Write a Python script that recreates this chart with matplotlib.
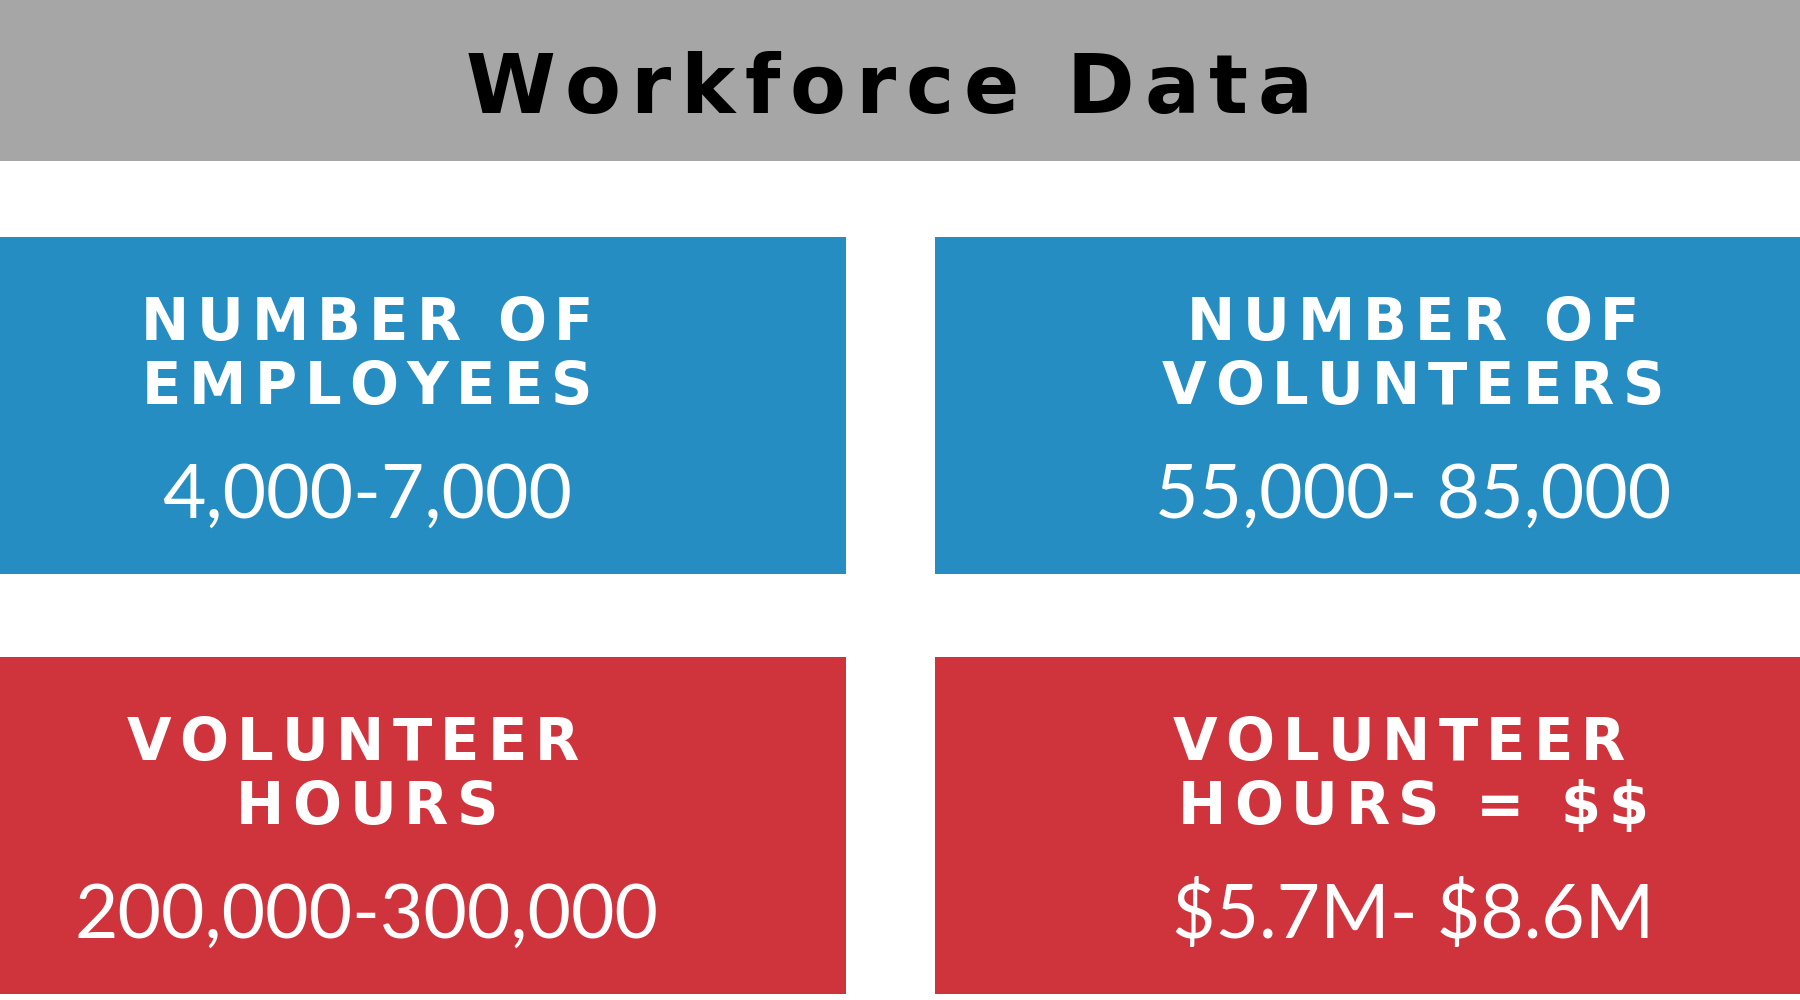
import matplotlib
matplotlib.use("Agg")
import matplotlib.pyplot as plt
from matplotlib.patches import Rectangle
from matplotlib.font_manager import FontProperties, findfont
from matplotlib.ft2font import FT2Font

W, H, DPI = 1800, 1000, 100

TITLE = "Workforce Data"
HEADERS = [
    ["NUMBER OF", "EMPLOYEES"],
    ["NUMBER OF", "VOLUNTEERS"],
    ["VOLUNTEER ", "HOURS"],
    ["VOLUNTEER ", "HOURS = $$"],
]
VALUES = ["4,000-7,000", "55,000- 85,000", "200,000-300,000", "$5.7M- $8.6M"]

GRAY = "#A6A6A6"
BLUE = "#258DC2"
RED = "#CF333C"
PANEL_COLORS = [BLUE, BLUE, RED, RED]

# panel layout in pixels: (x0, x1, y0, y1), text column centre
PANELS = [(0, 846, 237, 574), (935, 1800, 237, 574),
          (0, 846, 657, 994), (935, 1800, 657, 994)]
TEXT_CX = [367, 1413, 367, 1413]


def spaced_text(ax, cx, y, s, size, tracking, color, family="DejaVu Sans",
                weight="bold"):
    """draw s centred on cx with extra letter spacing (tracking in em)"""
    prop = FontProperties(family=family, weight=weight, size=size)
    font = FT2Font(findfont(prop))
    font.set_size(size, DPI)
    adv = [font.load_char(ord(c)).linearHoriAdvance / 65536 for c in s]
    em = size * DPI / 72
    gap = tracking * em
    total = sum(adv) + gap * (len(s) - 1)
    x = cx - total / 2
    for c, a in zip(s, adv):
        ax.text(x, y, c, fontproperties=prop, color=color,
                ha="left", va="baseline", parse_math=False)
        x += a + gap


fig = plt.figure(figsize=(W / DPI, H / DPI), dpi=DPI, facecolor="white")
ax = fig.add_axes([0, 0, 1, 1])
ax.set_xlim(0, W)
ax.set_ylim(H, 0)
ax.axis("off")

# title band
ax.add_patch(Rectangle((0, 0), W, 161, facecolor=GRAY, edgecolor="none"))
spaced_text(ax, 889, 113, TITLE, 58.7, 0.12, "black")

for (x0, x1, y0, y1), col, cx, hdr, val in zip(PANELS, PANEL_COLORS,
                                                TEXT_CX, HEADERS, VALUES):
    ax.add_patch(Rectangle((x0, y0), x1 - x0, y1 - y0,
                           facecolor=col, edgecolor="none"))
    spaced_text(ax, cx, y0 + 103, hdr[0], 41.5, 0.14, "white")
    spaced_text(ax, cx, y0 + 167, hdr[1], 41.5, 0.14, "white")
    ax.text(cx, y0 + 281, val, family="Lato", fontsize=54,
            color="white", ha="center", va="baseline", parse_math=False)

fig.savefig("out.png", dpi=DPI, facecolor=fig.get_facecolor())
plt.close(fig)
